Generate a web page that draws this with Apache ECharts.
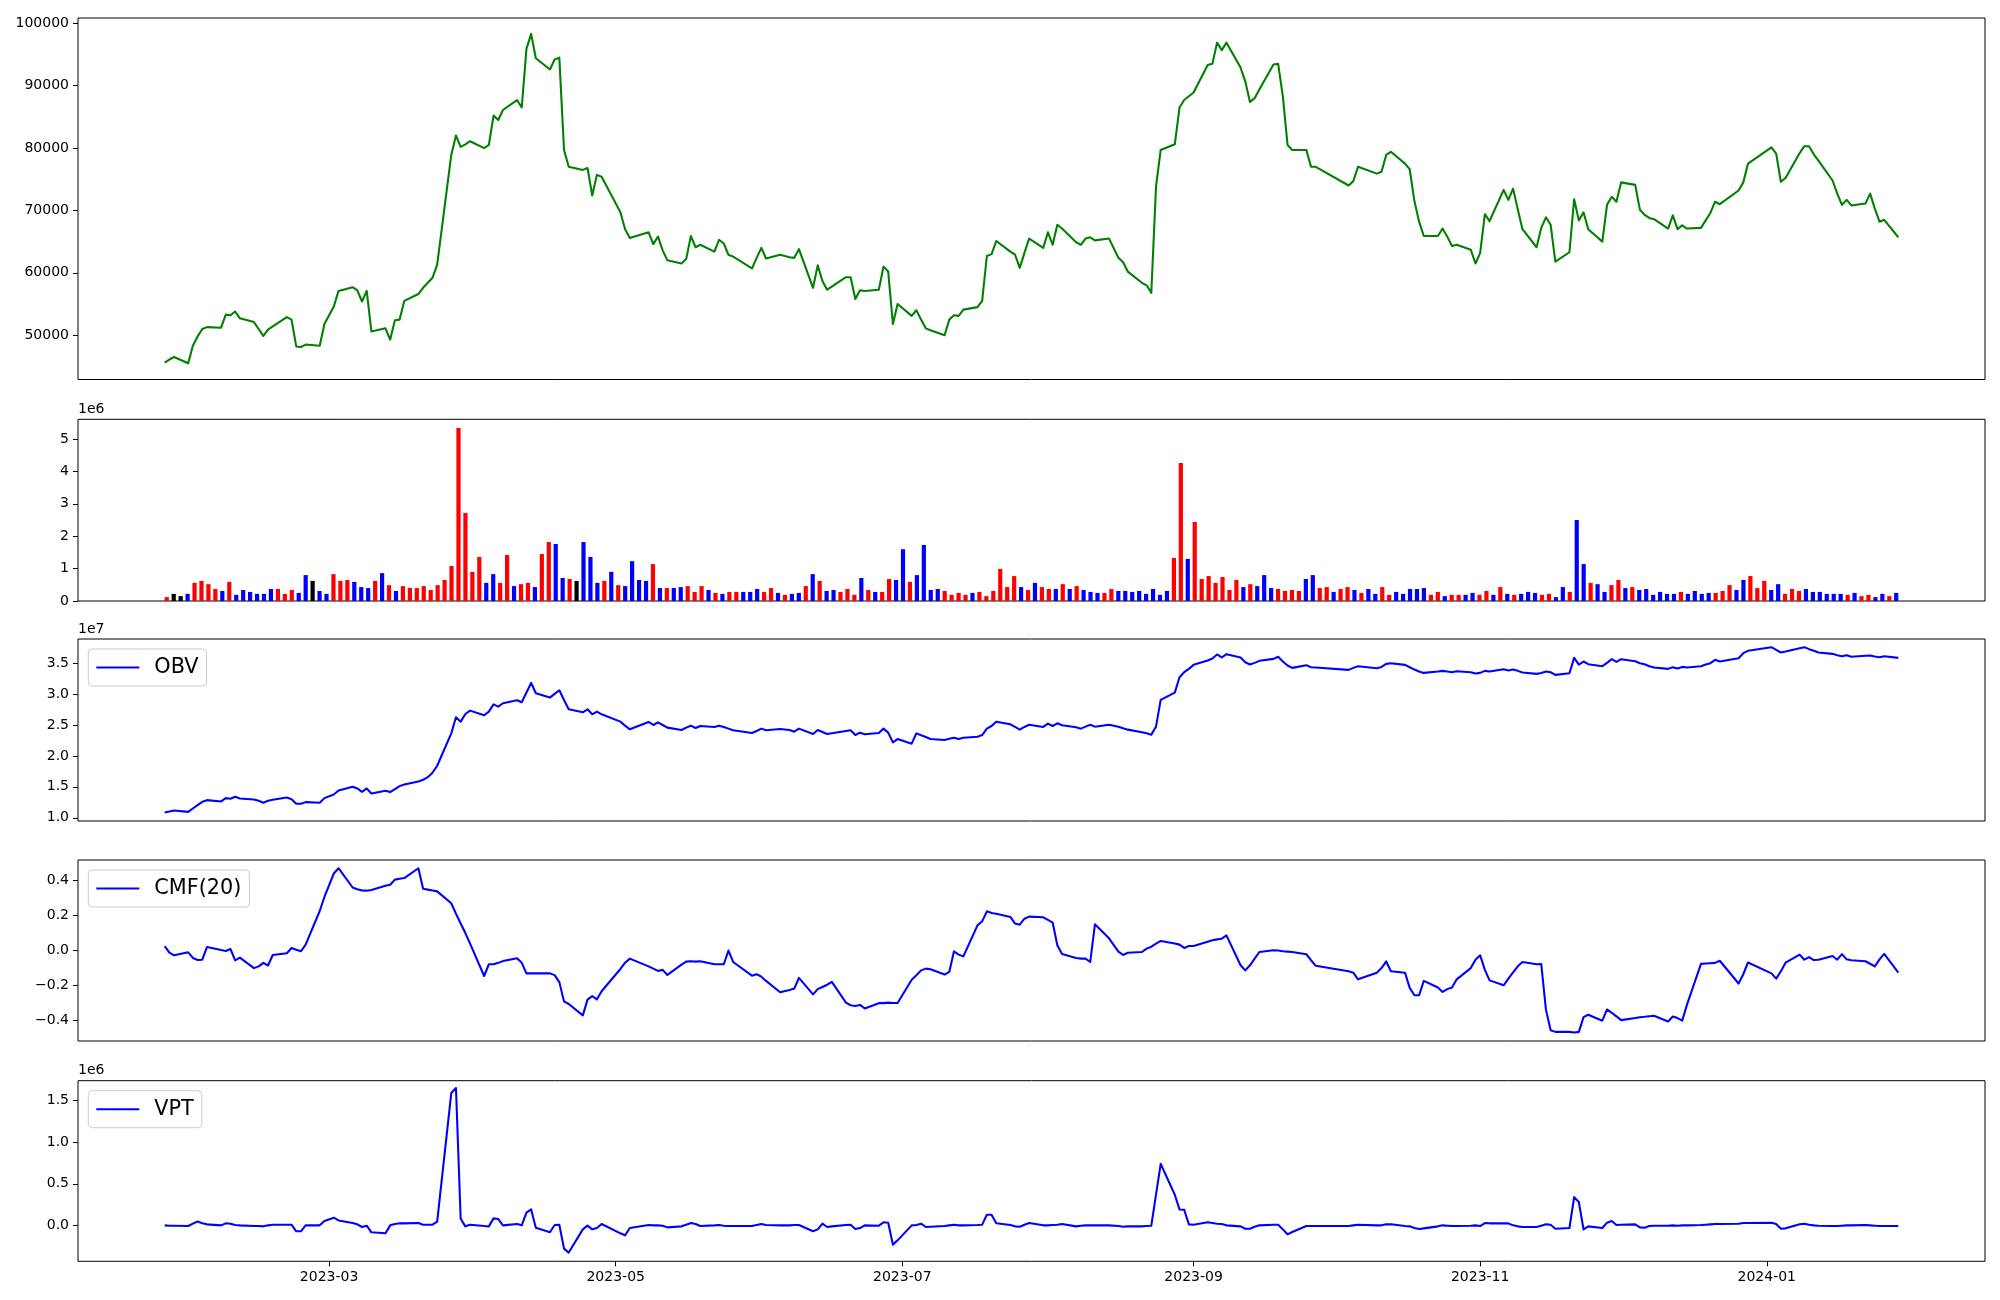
<!DOCTYPE html>
<html><head><meta charset="utf-8">
<script src="https://cdn.jsdelivr.net/npm/echarts@6/dist/echarts.min.js"></script>
<style>html,body{margin:0;padding:0;background:#fff}#c{width:2000px;height:1300px}</style>
</head><body><div id="c"></div>
<script>
// ---------------- data ----------------
const dates = [
'2023-01-25','2023-01-26','2023-01-27','2023-01-30','2023-01-31',
'2023-02-01','2023-02-02','2023-02-03','2023-02-06','2023-02-07','2023-02-08','2023-02-09','2023-02-10','2023-02-13','2023-02-14','2023-02-15','2023-02-16','2023-02-17','2023-02-20','2023-02-21','2023-02-22','2023-02-23','2023-02-24','2023-02-27','2023-02-28',
'2023-03-02','2023-03-03','2023-03-06','2023-03-07','2023-03-08','2023-03-09','2023-03-10','2023-03-13','2023-03-14','2023-03-15','2023-03-16','2023-03-17','2023-03-20','2023-03-21','2023-03-22','2023-03-23','2023-03-24','2023-03-27','2023-03-28','2023-03-29','2023-03-30','2023-03-31',
'2023-04-03','2023-04-04','2023-04-05','2023-04-06','2023-04-07','2023-04-10','2023-04-11','2023-04-12','2023-04-13','2023-04-14','2023-04-17','2023-04-18','2023-04-19','2023-04-20','2023-04-21','2023-04-24','2023-04-25','2023-04-26','2023-04-27','2023-04-28',
'2023-05-02','2023-05-03','2023-05-04','2023-05-08','2023-05-09','2023-05-10','2023-05-11','2023-05-12','2023-05-15','2023-05-16','2023-05-17','2023-05-18','2023-05-19','2023-05-22','2023-05-23','2023-05-24','2023-05-25','2023-05-26','2023-05-30','2023-05-31',
'2023-06-01','2023-06-02','2023-06-05','2023-06-07','2023-06-08','2023-06-09','2023-06-12','2023-06-13','2023-06-14','2023-06-15','2023-06-16','2023-06-19','2023-06-20','2023-06-21','2023-06-22','2023-06-23','2023-06-26','2023-06-27','2023-06-28','2023-06-29','2023-06-30',
'2023-07-03','2023-07-04','2023-07-05','2023-07-06','2023-07-07','2023-07-10','2023-07-11','2023-07-12','2023-07-13','2023-07-14','2023-07-17','2023-07-18','2023-07-19','2023-07-20','2023-07-21','2023-07-24','2023-07-25','2023-07-26','2023-07-27','2023-07-28','2023-07-31',
'2023-08-01','2023-08-02','2023-08-03','2023-08-04','2023-08-07','2023-08-08','2023-08-09','2023-08-10','2023-08-11','2023-08-14','2023-08-16','2023-08-17','2023-08-18','2023-08-21','2023-08-22','2023-08-23','2023-08-24','2023-08-25','2023-08-28','2023-08-29','2023-08-30','2023-08-31',
'2023-09-01','2023-09-04','2023-09-05','2023-09-06','2023-09-07','2023-09-08','2023-09-11','2023-09-12','2023-09-13','2023-09-14','2023-09-15','2023-09-18','2023-09-19','2023-09-20','2023-09-21','2023-09-22','2023-09-25','2023-09-26','2023-09-27',
'2023-10-04','2023-10-05','2023-10-06','2023-10-10','2023-10-11','2023-10-12','2023-10-13','2023-10-16','2023-10-17','2023-10-18','2023-10-19','2023-10-20','2023-10-23','2023-10-24','2023-10-25','2023-10-26','2023-10-27','2023-10-30','2023-10-31',
'2023-11-01','2023-11-02','2023-11-03','2023-11-06','2023-11-07','2023-11-08','2023-11-09','2023-11-10','2023-11-13','2023-11-14','2023-11-15','2023-11-16','2023-11-17','2023-11-20','2023-11-21','2023-11-22','2023-11-23','2023-11-24','2023-11-27','2023-11-28','2023-11-29','2023-11-30',
'2023-12-01','2023-12-04','2023-12-05','2023-12-06','2023-12-07','2023-12-08','2023-12-11','2023-12-12','2023-12-13','2023-12-14','2023-12-15','2023-12-18','2023-12-19','2023-12-20','2023-12-21','2023-12-22','2023-12-26','2023-12-27','2023-12-28',
'2024-01-02','2024-01-03','2024-01-04','2024-01-05','2024-01-08','2024-01-09','2024-01-10','2024-01-11','2024-01-12','2024-01-15','2024-01-16','2024-01-17','2024-01-18','2024-01-19','2024-01-22','2024-01-23','2024-01-24','2024-01-25','2024-01-26','2024-01-29'
];

const closePrice = [
45600,46100,46500,45500,48300,
49800,51000,51300,51200,53300,53200,53800,52700,52100,51000,49900,50900,51400,52900,52500,48200,48100,48500,48300,51800,
54600,57100,57700,57200,55400,57100,50600,51100,49300,52400,52500,55500,56600,57600,58400,59200,61300,78900,82000,80200,80600,81100,
80000,80500,85200,84500,86100,87700,86500,95900,98300,94400,92600,94200,94500,79700,77000,76500,76800,72400,75700,75400,
69700,67000,65600,66500,64600,65800,63600,62000,61500,62200,65900,64100,64500,63400,65300,64700,62900,62600,60700,62400,
64000,62300,62900,62500,62400,63800,57600,61200,58700,57300,57800,59300,59300,55800,57200,57100,57300,61000,60200,51800,55000,
53100,54000,52500,51100,50800,50000,52500,53200,53100,54100,54500,55500,62700,63000,65100,63400,62900,60800,63200,65500,64000,
66500,64500,67700,67100,64900,64500,65500,65700,65200,65500,62400,61700,60200,58400,58000,56800,73800,79700,80600,86500,87700,88300,
88900,93300,93500,96900,95700,96900,92900,90700,87400,88000,89400,93400,93500,88300,80500,79700,79700,77000,77000,
74000,74700,77000,75900,76200,78900,79400,77500,76600,71500,68200,65900,65900,67100,65800,64300,64500,63700,61500,
63200,69400,68300,73300,71700,73500,70200,67000,64100,67200,68900,67700,61800,63300,71800,68400,69700,67000,65000,70900,72200,71400,
74500,74100,70100,69300,68800,68600,67100,69200,67000,67600,67100,67200,68400,69600,71400,71000,73200,74500,77500,
80100,79100,74600,75200,79200,80300,80300,79000,78000,74800,72700,70900,71700,70800,71100,72700,70300,68200,68500,65700
];

const volume = [
120000,220000,150000,220000,560000,
620000,520000,370000,310000,590000,190000,340000,280000,220000,220000,370000,370000,220000,340000,250000,800000,620000,310000,220000,830000,
620000,650000,590000,430000,400000,620000,860000,490000,310000,460000,400000,400000,460000,340000,490000,650000,1080000,5340000,2720000,900000,1360000,560000,
830000,560000,1420000,460000,520000,560000,430000,1450000,1820000,1760000,710000,680000,620000,1820000,1360000,560000,620000,900000,490000,460000,
1230000,650000,620000,1140000,400000,400000,400000,430000,460000,280000,460000,340000,250000,220000,280000,280000,280000,280000,370000,280000,
400000,250000,190000,220000,250000,460000,830000,620000,310000,340000,280000,370000,190000,710000,340000,280000,280000,680000,650000,1600000,590000,
800000,1730000,340000,370000,310000,190000,250000,190000,250000,280000,150000,310000,990000,430000,770000,430000,340000,560000,430000,370000,370000,
520000,370000,460000,340000,280000,250000,250000,370000,310000,310000,280000,310000,220000,370000,190000,310000,1330000,4260000,1300000,2440000,680000,770000,
560000,740000,340000,650000,430000,520000,460000,800000,400000,370000,310000,340000,310000,680000,800000,400000,430000,280000,370000,
430000,340000,250000,370000,220000,430000,190000,280000,220000,370000,370000,400000,190000,280000,150000,190000,190000,190000,250000,
190000,310000,190000,430000,220000,190000,220000,280000,250000,190000,220000,120000,430000,280000,2500000,1140000,560000,520000,280000,490000,650000,400000,
430000,340000,370000,190000,280000,220000,220000,280000,220000,310000,220000,250000,250000,310000,490000,340000,650000,770000,400000,
620000,340000,520000,220000,370000,310000,370000,280000,280000,220000,220000,220000,190000,250000,150000,190000,120000,220000,150000,250000
];

// candle direction per day: '+' close above open, '-' close below open, '0' unchanged
const candleDir =
"+00-++++-+" + "------+++-" + "-0--+++---" + "+-+-++++++" + "++++++--++" +
"-++-++--+0" + "---+-+----" + "+-+--+++-+" + "-++---++-+" + "--+-+--+++" +
"-+-++--+--" + "--++++-+++" + "+++-+-++-+" + "-+---++---" + "-----++-++" +
"+++++-+---" + "++++--++-+" + "+-+--++---" + "--++-++--+" + "+-+-+---++" +
"--+--+--++" + "-+------+-" + "---+++--++" + "+--+++----" + "--+-++--+-";

const obv = [
10840000,11000000,11180000,10960000,11500000,
12040000,12580000,12850000,12640000,13180000,13070000,13390000,13120000,12960000,12740000,12420000,12740000,12900000,13280000,13010000,12260000,12260000,12530000,12420000,13180000,
13770000,14420000,15010000,14740000,14200000,14740000,13930000,14360000,14150000,14630000,15120000,15390000,15870000,16140000,16570000,17280000,18410000,23650000,26240000,25540000,26780000,27320000,
26570000,27160000,28340000,27970000,28510000,28990000,28670000,30240000,31800000,30130000,29430000,30020000,30610000,29050000,27540000,27050000,27540000,26730000,27160000,26730000,
25540000,24890000,24300000,25490000,25000000,25430000,25000000,24570000,24190000,24570000,24890000,24520000,24840000,24680000,24890000,24680000,24410000,24140000,23710000,24030000,
24410000,24140000,24360000,24190000,23920000,24410000,23540000,24190000,23870000,23540000,23650000,24030000,24140000,23380000,23760000,23490000,23710000,24410000,23760000,22190000,22730000,
21980000,23650000,23330000,23060000,22730000,22570000,22780000,22950000,22730000,22950000,23110000,23380000,24410000,24840000,25540000,25110000,24680000,24250000,24680000,25050000,24680000,
25220000,24840000,25270000,24950000,24620000,24410000,24730000,25050000,24730000,25050000,24730000,24460000,24250000,23810000,23650000,23440000,24730000,29050000,30240000,32720000,33530000,34070000,
34720000,35420000,35750000,36400000,35910000,36450000,35910000,35150000,34780000,35040000,35370000,35690000,36020000,35260000,34610000,34230000,34670000,34340000,34290000,
33910000,34230000,34500000,34180000,34390000,34880000,34990000,34720000,34340000,33960000,33640000,33420000,33640000,33750000,33640000,33530000,33690000,33530000,33310000,
33420000,33750000,33640000,34020000,33800000,33960000,33750000,33480000,33260000,33420000,33640000,33530000,33100000,33370000,35850000,34770000,35260000,34830000,34500000,35040000,35640000,35200000,
35640000,35310000,34990000,34830000,34500000,34290000,34070000,34340000,34130000,34390000,34290000,34500000,34780000,34990000,35530000,35260000,35800000,36610000,36990000,
37580000,37150000,36720000,36880000,37420000,37580000,37260000,36990000,36720000,36500000,36290000,36120000,36290000,36020000,36180000,36230000,36070000,35960000,36120000,35850000
];

const cmf20 = [
0.026,-0.012,-0.027,-0.010,-0.042,
-0.054,-0.052,0.020,0.003,-0.002,0.009,-0.056,-0.040,-0.100,-0.090,-0.070,-0.085,-0.025,-0.015,0.015,0.005,-0.004,0.034,0.226,0.306,
0.440,0.470,0.360,0.350,0.343,0.342,0.346,0.370,0.376,0.405,0.410,0.414,0.470,0.353,0.348,0.343,0.338,0.270,0.210,0.155,0.100,0.040,
-0.145,-0.078,-0.078,-0.070,-0.060,-0.044,-0.070,-0.130,-0.130,-0.130,-0.130,-0.140,-0.180,-0.290,-0.305,-0.370,-0.280,-0.260,-0.278,-0.232,
-0.105,-0.069,-0.046,-0.090,-0.103,-0.116,-0.110,-0.139,-0.080,-0.063,-0.061,-0.063,-0.061,-0.078,-0.078,-0.078,0.000,-0.065,-0.143,-0.135,
-0.149,-0.173,-0.238,-0.225,-0.217,-0.156,-0.250,-0.220,-0.208,-0.195,-0.179,-0.297,-0.312,-0.316,-0.310,-0.330,-0.300,-0.300,-0.297,-0.299,-0.299,
-0.166,-0.141,-0.113,-0.103,-0.107,-0.137,-0.122,-0.004,-0.023,-0.033,0.144,0.167,0.224,0.214,0.210,0.192,0.154,0.148,0.182,0.194,0.190,
0.175,0.160,0.030,-0.020,-0.042,-0.046,-0.046,-0.065,0.150,0.070,-0.006,-0.025,-0.012,-0.008,0.011,0.022,0.040,0.055,0.041,0.034,0.015,0.026,
0.026,0.051,0.059,0.064,0.068,0.087,-0.084,-0.113,-0.084,-0.046,-0.008,0.002,0.000,-0.004,-0.006,-0.008,-0.021,-0.055,-0.087,
-0.118,-0.126,-0.164,-0.126,-0.100,-0.062,-0.118,-0.126,-0.213,-0.255,-0.255,-0.173,-0.211,-0.236,-0.220,-0.211,-0.164,-0.100,-0.052,
-0.027,-0.110,-0.170,-0.198,-0.160,-0.125,-0.090,-0.065,-0.078,-0.077,-0.337,-0.455,-0.464,-0.464,-0.468,-0.464,-0.380,-0.366,-0.400,-0.336,-0.355,-0.375,
-0.397,-0.385,-0.380,-0.378,-0.375,-0.372,-0.405,-0.376,-0.385,-0.400,-0.310,-0.076,-0.074,-0.072,-0.070,-0.058,-0.188,-0.135,-0.068,
-0.130,-0.160,-0.118,-0.069,-0.023,-0.052,-0.037,-0.054,-0.052,-0.031,-0.052,-0.020,-0.050,-0.055,-0.061,-0.075,-0.090,-0.050,-0.019,-0.126
];

const vpt = [
4000,0,0,-4000,24000,
50000,30000,16000,4000,28000,24000,8000,4000,-4000,-4000,-8000,4000,12000,12000,12000,-67000,-67000,4000,4000,56000,
95000,63000,32000,16000,-16000,0,-79000,-91000,4000,20000,28000,28000,32000,12000,12000,12000,48000,1583000,1643000,83000,-8000,12000,
-4000,-8000,87000,79000,4000,20000,4000,155000,194000,-24000,-79000,8000,12000,-274000,-321000,-44000,0,-44000,-28000,20000,
-91000,-115000,-28000,8000,4000,4000,0,-20000,-8000,12000,32000,20000,-4000,4000,8000,0,-4000,-4000,-4000,8000,
20000,8000,4000,4000,8000,8000,-67000,-44000,24000,-16000,-8000,8000,12000,-40000,-28000,4000,0,40000,36000,-226000,-175000,
4000,8000,24000,-16000,-12000,-4000,4000,12000,4000,4000,8000,12000,131000,131000,28000,8000,-8000,-12000,12000,32000,4000,
4000,8000,12000,20000,-8000,0,4000,4000,4000,4000,-4000,-12000,-8000,-8000,-4000,0,370000,738000,369000,194000,190000,16000,
12000,40000,32000,24000,20000,4000,-8000,-36000,-36000,-12000,4000,12000,12000,-44000,-103000,-75000,-4000,-4000,-4000,
-4000,4000,12000,4000,4000,16000,16000,-4000,-8000,-28000,-40000,-32000,-8000,4000,0,-4000,-4000,0,4000,
-4000,32000,28000,28000,28000,4000,-8000,-16000,-16000,0,16000,12000,-36000,-28000,341000,282000,-44000,-8000,-28000,36000,56000,8000,
12000,16000,-20000,-24000,-4000,0,0,4000,0,4000,4000,8000,12000,16000,20000,20000,24000,32000,32000,
36000,20000,-36000,-32000,16000,24000,12000,4000,0,-4000,-4000,0,4000,4000,8000,4000,0,-4000,-4000,-4000
];

const priceTicks = [50000, 60000, 70000, 80000, 90000, 100000];
const volumeTicks = [0, 1000000, 2000000, 3000000, 4000000, 5000000];
const obvTicks = [10000000, 15000000, 20000000, 25000000, 30000000, 35000000];
const cmfTicks = [-0.4, -0.2, 0, 0.2, 0.4];
const vptTicks = [0, 500000, 1000000, 1500000];
const monthTicks = ['2023-03-01', '2023-05-01', '2023-07-01', '2023-09-01', '2023-11-01', '2024-01-01'];

// ---------------- chart ----------------
function toTime(s) { const p = s.split('-').map(Number); return new Date(p[0], p[1] - 1, p[2]).getTime(); }
const times = dates.map(toTime);
const DAY = 86400000;
const spanDays = (times[times.length - 1] - times[0]) / DAY;
const tMin = times[0] - 0.05 * spanDays * DAY;
const tMax = times[times.length - 1] + 0.05 * spanDays * DAY;
const barMin = -0.3 - 0.05 * (volume.length - 1 + 0.6);
const barMax = volume.length - 1 + 0.3 + 0.05 * (volume.length - 1 + 0.6);

const FONT = 'DejaVu Sans';
const tickFont = { fontFamily: FONT, fontSize: 14, color: '#000' };
const grids = [
  { top: 18, height: 361.5 },
  { top: 419.3, height: 181.7 },
  { top: 639, height: 182 },
  { top: 860, height: 181 },
  { top: 1080.7, height: 180.6 }
].map(g => Object.assign({ left: 78, right: 15, show: true, borderColor: '#000', borderWidth: 1, backgroundColor: '#fff' }, g));

function hiddenX(i, min, max) {
  return { gridIndex: i, type: 'value', min, max, position: 'bottom',
    axisLine: { show: false, onZero: false }, axisTick: { show: false }, axisLabel: { show: false }, splitLine: { show: false } };
}
const monthTimes = monthTicks.map(toTime);
const xAxes = [
  hiddenX(0, tMin, tMax),
  hiddenX(1, barMin, barMax),
  hiddenX(2, tMin, tMax),
  hiddenX(3, tMin, tMax),
  {
    gridIndex: 4, type: 'value', min: tMin, max: tMax, position: 'bottom',
    axisLine: { show: false, onZero: false }, splitLine: { show: false },
    axisTick: { show: true, customValues: monthTimes, length: 5, lineStyle: { color: '#000', width: 1 } },
    axisLabel: Object.assign({ show: true, customValues: monthTimes, margin: 9, hideOverlap: false,
      formatter: v => { const d = new Date(v); return d.getFullYear() + '-' + String(d.getMonth() + 1).padStart(2, '0'); } }, tickFont)
  }
];

function yAx(i, min, max, ticks, fmt, name) {
  const ax = {
    gridIndex: i, type: 'value', min, max, position: 'left',
    axisLine: { show: false, onZero: false }, splitLine: { show: false },
    axisTick: { show: true, customValues: ticks, length: 5, lineStyle: { color: '#000', width: 1 } },
    axisLabel: Object.assign({ customValues: ticks, margin: 9, formatter: fmt }, tickFont)
  };
  if (name) {
    ax.name = name; ax.nameLocation = 'end'; ax.nameGap = 3;
    ax.nameTextStyle = { fontFamily: FONT, fontSize: 14, color: '#000', align: 'left', verticalAlign: 'bottom' };
  }
  return ax;
}
const minus = s => s.replace('-', '\u2212');
const yAxes = [
  yAx(0, 42900, 100850, priceTicks, v => String(v)),
  yAx(1, 0, 5610000, volumeTicks, v => String(Math.round(v / 1e6)), '1e6'),
  yAx(2, 9480000, 38900000, obvTicks, v => (v / 1e7).toFixed(1), '1e7'),
  yAx(3, -0.516, 0.517, cmfTicks, v => Math.abs(v) < 1e-9 ? '0.0' : minus(v.toFixed(1))),
  yAx(4, -425000, 1730000, vptTicks, v => (v / 1e6).toFixed(1), '1e6')
];

const dirColor = { '+': '#ff0000', '-': '#0000ff', '0': '#000000' };
const lineW = 2.08;
function lineSeries(name, idx, values, color) {
  return {
    name, type: 'line', xAxisIndex: idx, yAxisIndex: idx,
    data: values.map((v, i) => [times[i], v]),
    showSymbol: false, symbol: 'none', color,
    lineStyle: { width: lineW, color, join: 'round' }, animation: false, z: 3
  };
}
const series = [
  lineSeries('Close', 0, closePrice, '#008000'),
  {
    name: 'Volume', type: 'bar', xAxisIndex: 1, yAxisIndex: 1,
    data: volume.map((v, i) => [i, v]), barWidth: 4.2, animation: false,
    itemStyle: { color: p => dirColor[candleDir[p.dataIndex]] }
  },
  lineSeries('OBV', 2, obv, '#0000ff'),
  lineSeries('CMF(20)', 3, cmf20, '#0000ff'),
  lineSeries('VPT', 4, vpt, '#0000ff')
];

function legendFor(name, gridTop) {
  return {
    data: [{ name, icon: 'rect' }], left: 88.3, top: gridTop + 10, orient: 'horizontal',
    padding: [8, 8, 8, 8], itemWidth: 43, itemHeight: 2.1, selectedMode: false,
    backgroundColor: 'rgba(255,255,255,0.8)', borderColor: '#cccccc', borderWidth: 1, borderRadius: 4,
    textStyle: { fontFamily: FONT, fontSize: 20.8, color: '#000', padding: [0, 0, 0, 10] }
  };
}

const chart = echarts.init(document.getElementById('c'), null, { renderer: 'canvas', width: 2000, height: 1300 });
chart.setOption({
  backgroundColor: '#fff',
  animation: false,
  grid: grids,
  xAxis: xAxes,
  yAxis: yAxes,
  legend: [legendFor('OBV', 639), legendFor('CMF(20)', 860), legendFor('VPT', 1080.7)],
  series
});
</script>
</body></html>
